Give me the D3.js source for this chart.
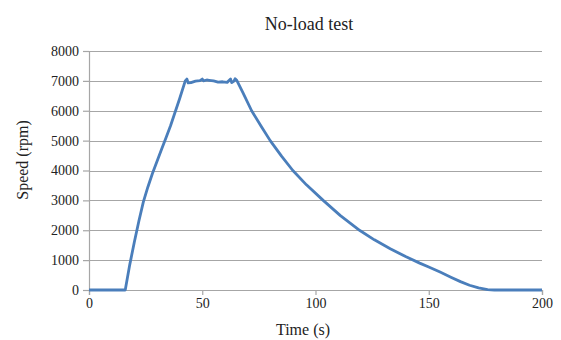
<!DOCTYPE html>
<html>
<head>
<meta charset="utf-8">
<script src="https://cdn.jsdelivr.net/npm/d3@7"></script>
<style>
  html, body { margin: 0; padding: 0; background: #fff; }
  svg text { font-family: 'Liberation Serif', 'DejaVu Serif', serif; }
</style>
</head>
<body>
<div id="chart"></div>
<script>
// Data
const timeS = [0, 16, 18, 20, 22, 24, 26, 28, 30, 32, 34, 36, 38, 40, 42.5, 43.2, 43.8, 45, 47, 49,
  50, 50.5, 52, 53, 55, 57, 59, 61, 62.5, 63, 64, 64.5, 65.3, 68, 71.8, 76, 80, 85, 90, 96,
  103.4, 111, 119.6, 126, 133, 140, 146, 150, 155, 160, 164, 168, 172, 176, 179, 200];
const speedRpm = [0, 0, 850, 1600, 2300, 2950, 3450, 3900, 4300, 4700, 5100, 5500, 5950, 6400, 7000, 7060, 6930, 6940, 6990, 7010,
  7060, 7000, 7030, 7020, 7000, 6960, 6970, 6950, 7060, 6940, 6990, 7070, 7010, 6600, 6000, 5480, 5000, 4480, 4000, 3520,
  3000, 2490, 1990, 1680, 1380, 1110, 900, 770, 600, 420, 280, 160, 70, 15, 0, 0];
const xTicks = [0, 50, 100, 150, 200];
const yTicks = [0, 1000, 2000, 3000, 4000, 5000, 6000, 7000, 8000];

const width = 561, height = 340;
const margin = { top: 51, right: 19, bottom: 50, left: 89 };
const innerW = width - margin.left - margin.right;
const innerH = height - margin.top - margin.bottom;
const serif = "'Liberation Serif', 'DejaVu Serif', serif";

const svg = d3.select('#chart')
  .append('svg')
  .attr('width', width)
  .attr('height', height);

const g = svg.append('g')
  .attr('transform', `translate(${margin.left},${margin.top})`);

const x = d3.scaleLinear().domain([0, 200]).range([0, innerW]);
const y = d3.scaleLinear().domain([0, 8000]).range([innerH, 0]);

// horizontal gridlines
g.append('g')
  .selectAll('line')
  .data(yTicks)
  .join('line')
  .attr('x1', 0)
  .attr('x2', innerW)
  .attr('y1', d => Math.round(y(d)) + 0.5)
  .attr('y2', d => Math.round(y(d)) + 0.5)
  .attr('stroke', '#a6a6a6')
  .attr('stroke-width', 1.2);

// y axis
const yAxis = g.append('g')
  .call(d3.axisLeft(y).tickValues(yTicks).tickSize(6).tickPadding(4).tickFormat(d3.format('d')));
yAxis.attr('font-family', null);
yAxis.select('.domain').attr('stroke', '#a6a6a6').attr('stroke-width', 1.2);
yAxis.selectAll('.tick line').attr('stroke', '#a6a6a6').attr('stroke-width', 1.2);
yAxis.selectAll('.tick text')
  .style('font-family', serif)
  .attr('font-size', 14)
  .attr('fill', '#222');

// x axis
const xAxis = g.append('g')
  .attr('transform', `translate(0,${innerH})`)
  .call(d3.axisBottom(x).tickValues(xTicks).tickSize(5).tickPadding(3));
xAxis.attr('font-family', null);
xAxis.select('.domain').attr('stroke', '#a6a6a6').attr('stroke-width', 1.2);
xAxis.selectAll('.tick line').attr('stroke', '#a6a6a6').attr('stroke-width', 1.2);
xAxis.selectAll('.tick text')
  .style('font-family', serif)
  .attr('font-size', 14)
  .attr('fill', '#222');

// speed line
const points = timeS.map((t, i) => [t, speedRpm[i]]);
g.append('path')
  .datum(points)
  .attr('fill', 'none')
  .attr('stroke', '#4a7ebb')
  .attr('stroke-width', 2.8)
  .attr('stroke-linejoin', 'round')
  .attr('d', d3.line().x(d => x(d[0])).y(d => y(d[1])));

// title
svg.append('text')
  .attr('x', 309)
  .attr('y', 30)
  .attr('text-anchor', 'middle')
  .style('font-family', serif)
  .attr('font-size', 18)
  .attr('fill', '#222')
  .text('No-load test');

// axis titles
svg.append('text')
  .attr('x', 303)
  .attr('y', 335)
  .attr('text-anchor', 'middle')
  .style('font-family', serif)
  .attr('font-size', 16)
  .attr('fill', '#222')
  .text('Time (s)');

svg.append('text')
  .attr('transform', 'translate(28,160) rotate(-90)')
  .attr('text-anchor', 'middle')
  .style('font-family', serif)
  .attr('font-size', 16)
  .attr('fill', '#222')
  .text('Speed (rpm)');
</script>
</body>
</html>
